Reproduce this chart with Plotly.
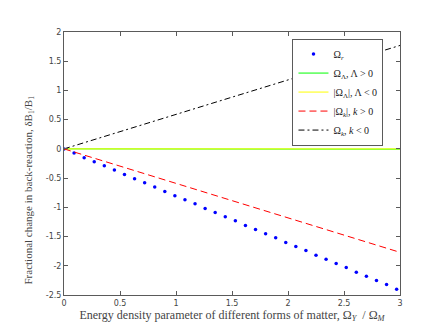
import plotly.graph_objects as go

# x grid of the sampled curves
omega_ratio = [0.00, 0.09, 0.18, 0.27, 0.36, 0.45, 0.54, 0.63, 0.72, 0.81, 0.90,
               0.99, 1.08, 1.17, 1.26, 1.35, 1.44, 1.53, 1.62, 1.71, 1.80, 1.89,
               1.98, 2.07, 2.16, 2.25, 2.34, 2.43, 2.52, 2.61, 2.70, 2.79, 2.88, 2.97]

# radiation (dots)
omega_r = [0.00, -0.07, -0.15, -0.22, -0.29, -0.36, -0.44, -0.51, -0.58, -0.65,
           -0.73, -0.80, -0.87, -0.94, -1.02, -1.09, -1.16, -1.23, -1.31, -1.38,
           -1.45, -1.52, -1.60, -1.67, -1.74, -1.82, -1.89, -1.96, -2.03, -2.11,
           -2.18, -2.25, -2.32, -2.40]

# cosmological constant, both signs (flat)
x_lam = [0.00, 1.00, 2.00, 3.00]
omega_lam_pos = [0.00, 0.00, -0.003, -0.005]
omega_lam_neg = [0.00, 0.00, 0.00, 0.00]

# curvature
x_k = [0.00, 0.50, 1.00, 1.50, 2.00, 2.50, 3.00]
omega_k_pos = [0.00, -0.295, -0.59, -0.885, -1.18, -1.475, -1.77]
omega_k_neg = [0.00, 0.295, 0.59, 0.885, 1.18, 1.475, 1.77]

x_ticks = [0, 0.5, 1, 1.5, 2, 2.5, 3]
y_ticks = [-2.5, -2, -1.5, -1, -0.5, 0, 0.5, 1, 1.5, 2]

serif = "Liberation Serif"

fig = go.Figure()
fig.add_trace(go.Scatter(x=omega_ratio, y=omega_r, mode="markers",
                         marker=dict(color="#0000ff", size=3.5),
                         name="Ω<sub><i>r</i></sub>", legendrank=1))
fig.add_trace(go.Scatter(x=x_lam, y=omega_lam_pos, mode="lines",
                         line=dict(color="#00ff00", width=1),
                         name="Ω<sub>Λ</sub>, Λ &gt; 0", legendrank=2))
fig.add_trace(go.Scatter(x=x_lam, y=omega_lam_neg, mode="lines",
                         line=dict(color="#ffff00", width=1),
                         name="|Ω<sub>Λ</sub>|, Λ &lt; 0", legendrank=3))
fig.add_trace(go.Scatter(x=x_k, y=omega_k_pos, mode="lines",
                         line=dict(color="#ff0000", width=1, dash="7px,4px"),
                         name="|Ω<sub><i>k</i></sub>|, <i>k</i> &gt; 0", legendrank=4))
fig.add_trace(go.Scatter(x=x_k, y=omega_k_neg, mode="lines",
                         line=dict(color="#000000", width=1, dash="6px,3px,2px,3px"),
                         name="Ω<sub><i>k</i></sub>, <i>k</i> &lt; 0", legendrank=5))

axis_common = dict(showgrid=False, zeroline=False, showline=True, mirror="ticks",
                   linecolor="#5a5a5a", linewidth=1, ticks="inside", ticklen=4,
                   tickcolor="#5a5a5a", tickfont=dict(family="DejaVu Sans", size=8, color="#444"))

fig.update_xaxes(range=[0, 3], tickvals=x_ticks, ticktext=[str(v) for v in x_ticks],
                 title=dict(text="Energy density parameter of different forms of matter, "
                                 "Ω<sub><i>Y</i></sub>  / Ω<sub><i>M</i></sub>",
                            font=dict(family=serif, size=12, color="#444"), standoff=0),
                 **axis_common)
fig.update_yaxes(range=[-2.5, 2], tickvals=y_ticks, ticktext=[str(v) for v in y_ticks],
                 **axis_common)

# y label placed like the original (slightly below centre)
fig.add_annotation(text="Fractional change in back-reaction, δB<sub>1</sub>/B<sub>1</sub>",
                   xref="paper", yref="paper", x=-0.105, y=0.40, xanchor="center",
                   yanchor="middle", textangle=-90, showarrow=False,
                   font=dict(family=serif, size=11, color="#444"))

fig.update_layout(
    width=432, height=324,
    margin=dict(l=56, r=40, t=24, b=37),
    plot_bgcolor="white", paper_bgcolor="white",
    showlegend=True,
    legend=dict(x=0.68, y=0.975, xanchor="left", yanchor="top",
                bgcolor="white", bordercolor="#5a5a5a", borderwidth=1,
                font=dict(family=serif, size=10, color="#222"),
                itemwidth=30, tracegroupgap=0),
)

fig.write_html("out.html")
